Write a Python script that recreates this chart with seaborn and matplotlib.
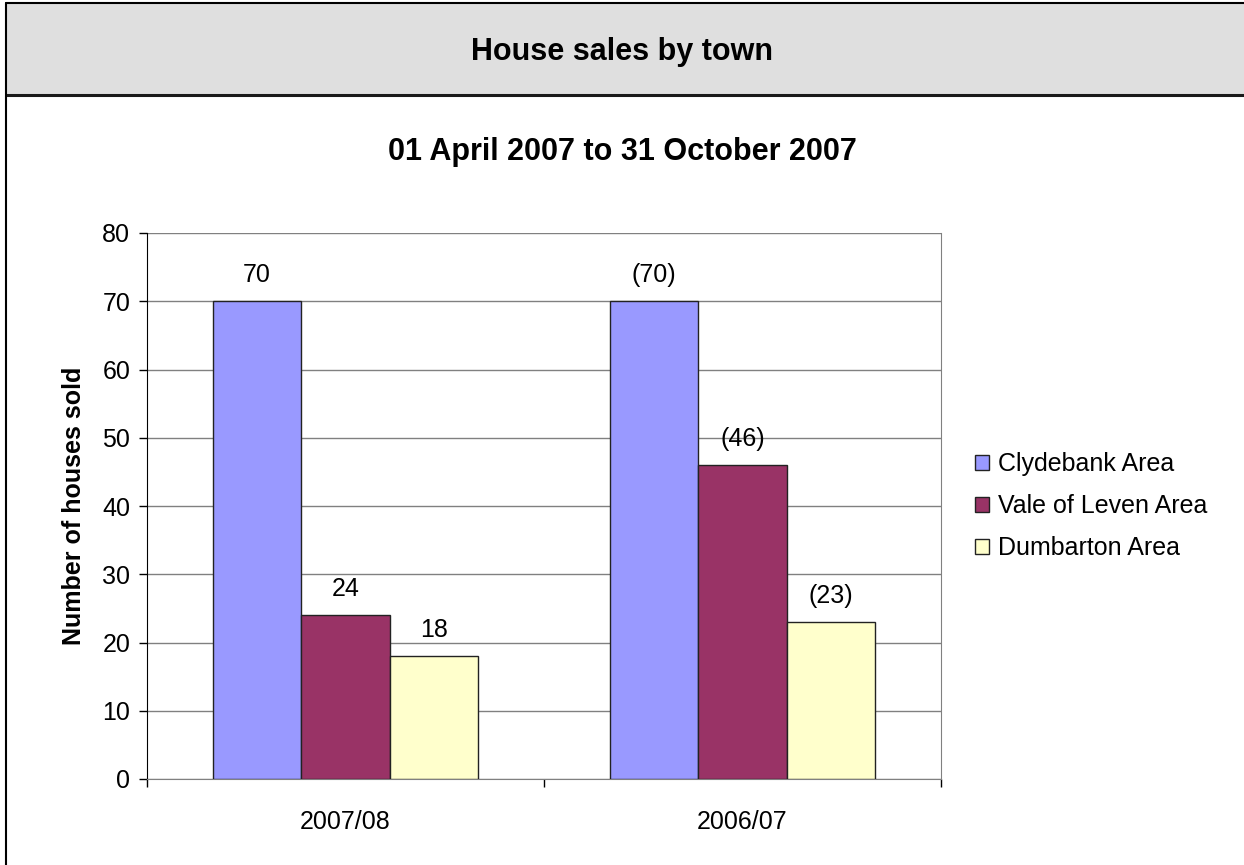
import pandas as pd
import seaborn as sb
from matplotlib import pyplot as plt
from matplotlib.patches import Rectangle
from matplotlib.lines import Line2D

# data
years = ["2007/08", "2006/07"]
areas = ["Clydebank Area", "Vale of Leven Area", "Dumbarton Area"]
clydebank = [70, 70]
vale_of_leven = [24, 46]
dumbarton = [18, 23]
area_colours = ["#9999FF", "#993366", "#FFFFCC"]

rows = []
for area, vals in zip(areas, [clydebank, vale_of_leven, dumbarton]):
    for yr, v in zip(years, vals):
        rows.append({"year": yr, "area": area, "sold": v})
df = pd.DataFrame(rows)

sb.set_style("white")
plt.rcParams["font.family"] = ["Liberation Sans", "DejaVu Sans"]
plt.rcParams["text.color"] = "black"
plt.rcParams["axes.labelcolor"] = "black"
plt.rcParams["xtick.color"] = "black"
plt.rcParams["ytick.color"] = "black"

fig = plt.figure(figsize=(12.44, 8.65), dpi=100)
W, H = 1244, 865

# grey header band and frame
fig.add_artist(Rectangle((6 / W, 1 - 95 / H), 1.2, (95 - 3) / H, transform=fig.transFigure,
                         facecolor="#DFDFDF", edgecolor="none", zorder=0))
fig.add_artist(Line2D([6 / W, 1], [1 - 3 / H, 1 - 3 / H], color="black", lw=1.5))
fig.add_artist(Line2D([6 / W, 1], [1 - 95 / H, 1 - 95 / H], color="#1a1a1a", lw=2.2))
fig.add_artist(Line2D([6 / W, 6 / W], [0, 1 - 3 / H], color="black", lw=1.5))

fig.text(0.5, 1 - 52 / H, "House sales by town", ha="center", va="center",
         fontsize=22, fontweight="bold")
fig.text(0.5, 1 - 152 / H, "01 April 2007 to 31 October 2007", ha="center", va="center",
         fontsize=22, fontweight="bold")

ax = fig.add_axes([147 / W, 1 - 779 / H, (941 - 147) / W, (779 - 233) / H])
sb.barplot(data=df, x="year", y="sold", hue="area", order=years, hue_order=areas,
           palette=area_colours, saturation=1, width=0.67, gap=0, edgecolor="#222222",
           linewidth=1, ax=ax, zorder=3)

# labels above bars, previous year in brackets
for i, cont in enumerate(ax.containers):
    labs = []
    for j, bar in enumerate(cont):
        v = int(round(bar.get_height()))
        labs.append(str(v) if years[j] == "2007/08" else "(" + str(v) + ")")
    ax.bar_label(cont, labels=labs, padding=10, fontsize=18)

ax.set_ylim(0, 80)
ax.set_xlim(-0.5, 1.5)
ax.set_yticks(range(0, 81, 10))
ax.yaxis.grid(True, color="#808080", lw=1)
ax.set_axisbelow(True)
ax.tick_params(axis="y", left=True, length=6, width=1, color="black", labelsize=18, pad=6)
ax.set_xticks([0, 1])
ax.set_xticks([-0.5, 0.5, 1.5], minor=True)
ax.tick_params(axis="x", which="major", length=0, labelsize=18, pad=22)
ax.tick_params(axis="x", which="minor", bottom=True, length=6, width=1, color="black")
ax.spines["top"].set_visible(False)
ax.spines["left"].set_color("black")
ax.spines["bottom"].set_color("#808080")
ax.spines["right"].set_color("#808080")
ax.set_xlabel("")
ax.set_ylabel("Number of houses sold", fontsize=18, fontweight="bold", labelpad=12)

handles, labels = ax.get_legend_handles_labels()
ax.legend(handles, labels, loc="center left", bbox_to_anchor=(1.015, 0.5), frameon=False,
          fontsize=18, handlelength=0.56, handleheight=0.56, handletextpad=0.36,
          labelspacing=0.72)

plt.savefig("out.png", dpi=100)
plt.close()
